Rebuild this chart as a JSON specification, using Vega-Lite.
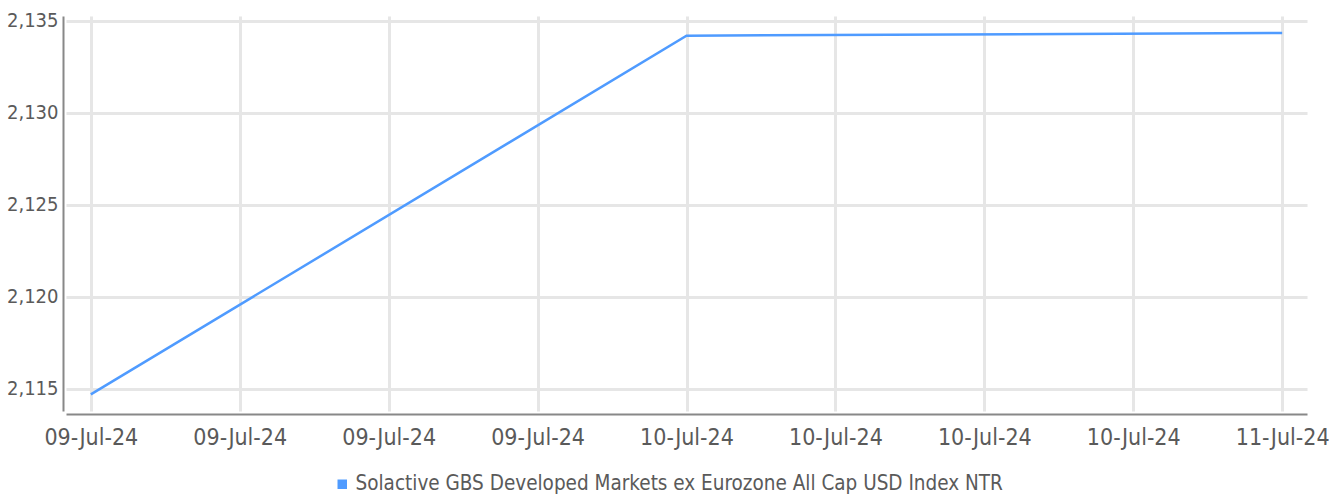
{
  "$schema": "https://vega.github.io/schema/vega-lite/v6.json",
  "autosize": "none",
  "width": 1241,
  "height": 395,
  "padding": {"left": 66, "top": 16, "right": 30, "bottom": 87},
  "background": "white",
  "config": {
    "view": {"stroke": null},
    "font": "Liberation Sans Narrow, DejaVu Sans Condensed, sans-serif"
  },
  "data": {
    "values": [
      {"date": "2024-07-09T00:00:00", "value": 2114.7, "series": "Solactive GBS Developed Markets ex Eurozone All Cap USD Index NTR"},
      {"date": "2024-07-10T00:00:00", "value": 2134.2, "series": "Solactive GBS Developed Markets ex Eurozone All Cap USD Index NTR"},
      {"date": "2024-07-11T00:00:00", "value": 2134.35, "series": "Solactive GBS Developed Markets ex Eurozone All Cap USD Index NTR"}
    ]
  },
  "mark": {"type": "line", "strokeWidth": 2.5},
  "encoding": {
    "x": {
      "field": "date",
      "type": "temporal",
      "scale": {
        "domain": [
          {"year": 2024, "month": 7, "date": 8, "hours": 23},
          {"year": 2024, "month": 7, "date": 11, "hours": 1}
        ]
      },
      "axis": {
        "title": null,
        "values": [
          {"year": 2024, "month": 7, "date": 9, "hours": 0},
          {"year": 2024, "month": 7, "date": 9, "hours": 6},
          {"year": 2024, "month": 7, "date": 9, "hours": 12},
          {"year": 2024, "month": 7, "date": 9, "hours": 18},
          {"year": 2024, "month": 7, "date": 10, "hours": 0},
          {"year": 2024, "month": 7, "date": 10, "hours": 6},
          {"year": 2024, "month": 7, "date": 10, "hours": 12},
          {"year": 2024, "month": 7, "date": 10, "hours": 18},
          {"year": 2024, "month": 7, "date": 11, "hours": 0}
        ],
        "format": "%d-%b-%y",
        "offset": 3,
        "domainColor": "#888888",
        "domainWidth": 2,
        "ticks": false,
        "grid": true,
        "gridColor": "#e6e6e6",
        "gridWidth": 3,
        "labelFontSize": 23,
        "labelColor": "#5a5a5a",
        "labelPadding": 12,
        "labelFlush": false
      }
    },
    "y": {
      "field": "value",
      "type": "quantitative",
      "scale": {"domain": [2113.8, 2135.27], "nice": false, "zero": false},
      "axis": {
        "title": null,
        "values": [2115, 2120, 2125, 2130, 2135],
        "format": ",.0f",
        "offset": 3,
        "domainColor": "#888888",
        "domainWidth": 2,
        "ticks": false,
        "grid": true,
        "gridColor": "#e6e6e6",
        "gridWidth": 3,
        "labelFontSize": 20,
        "labelColor": "#5a5a5a",
        "labelPadding": 5
      }
    },
    "color": {
      "field": "series",
      "type": "nominal",
      "scale": {"range": ["#4f9bff"]},
      "legend": {
        "title": null,
        "orient": "none",
        "legendX": 266,
        "legendY": 458,
        "symbolType": "square",
        "symbolSize": 90,
        "symbolStrokeWidth": 0,
        "symbolFillColor": "#4f9bff",
        "symbolOffset": 0,
        "labelOffset": 3,
        "labelFontSize": 20.5,
        "labelColor": "#5a5a5a",
        "labelLimit": 1000
      }
    }
  }
}
